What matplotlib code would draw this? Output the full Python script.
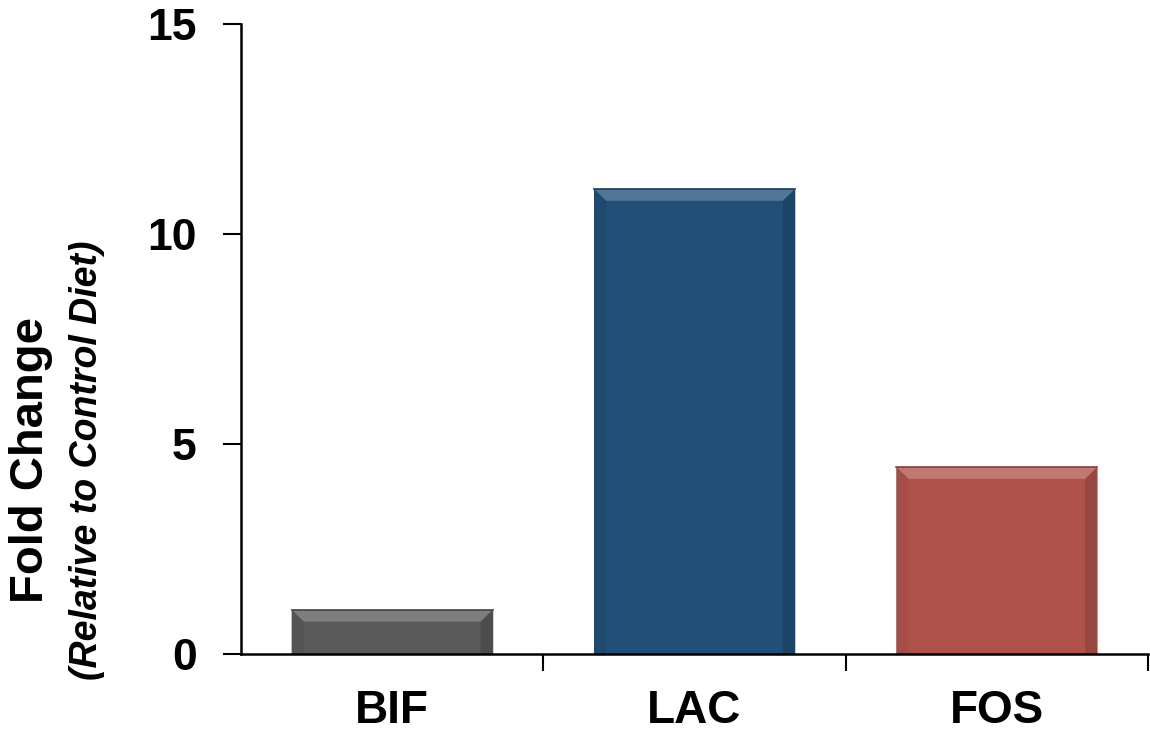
import matplotlib.pyplot as plt
import matplotlib.colors as mcolors
from matplotlib.patches import Polygon

plt.rcParams["font.family"] = ["Liberation Sans", "DejaVu Sans"]

categories = ["BIF", "LAC", "FOS"]
fold_change = [1.05, 11.07, 4.45]
bar_colors = ["#5a5a5a", "#214f77", "#b0524c"]
y_ticks = [0, 5, 10, 15]

BAR_WIDTH = 0.665


def shade(color, amount):
    r, g, b = mcolors.to_rgb(color)
    if amount > 0:
        return (r + (1 - r) * amount, g + (1 - g) * amount, b + (1 - b) * amount)
    return (r * (1 + amount), g * (1 + amount), b * (1 + amount))


def add_bevel(ax, x0, x1, top, color):
    # bevel size ~12 px converted to data units
    bx = 0.04
    by = min(0.28, top / 3)
    faces = [
        ([(x0, top), (x1, top), (x1 - bx, top - by), (x0 + bx, top - by)], shade(color, 0.22)),
        ([(x0, 0), (x0, top), (x0 + bx, top - by), (x0 + bx, 0)], shade(color, -0.06)),
        ([(x1, 0), (x1, top), (x1 - bx, top - by), (x1 - bx, 0)], shade(color, -0.14)),
    ]
    for pts, fc in faces:
        ax.add_patch(Polygon(pts, closed=True, facecolor=fc, edgecolor="none", zorder=3))
    ax.plot([x0, x1], [top, top], color=shade(color, -0.25), lw=1.2, zorder=4)


fig = plt.figure(figsize=(11.5, 7.35), dpi=100)
ax = fig.add_axes([241 / 1150, 81 / 735, 907 / 1150, 630 / 735])

xs = range(len(categories))
bars = ax.bar(xs, fold_change, width=BAR_WIDTH, color=bar_colors, zorder=2,
              edgecolor="#cfcfcf", linewidth=0.8)
for bar, col in zip(bars, bar_colors):
    add_bevel(ax, bar.get_x(), bar.get_x() + bar.get_width(), bar.get_height(), col)

ax.set_xlim(-0.5, 2.5)
ax.set_ylim(0, 15)
ax.set_yticks(y_ticks)
ax.set_yticklabels([str(t) for t in y_ticks], fontsize=32, fontweight="bold")
ax.set_xticks([0.5, 1.5, 2.5])
ax.set_xticklabels([])
ax.set_xticks(list(xs), minor=True)
ax.set_xticklabels(categories, minor=True, fontsize=33, fontweight="bold")
ax.tick_params(axis="x", which="minor", length=0, pad=25.5)
ax.tick_params(axis="x", which="major", length=12, width=1.5, direction="out")
ax.tick_params(axis="y", length=13, width=1.5, direction="out", pad=19)

for side in ["top", "right"]:
    ax.spines[side].set_visible(False)
for side in ["left", "bottom"]:
    ax.spines[side].set_linewidth(1.8)
ax.spines["bottom"].set_zorder(5)

fig.text(31 / 1150, 1 - 460 / 735, "Fold Change", rotation=90, fontsize=34,
         fontweight="bold", ha="center", va="center")
fig.text(87 / 1150, 1 - 460 / 735, "(Relative to Control Diet)", rotation=90,
         fontsize=27, fontweight="bold", style="italic", ha="center", va="center")

fig.savefig("out.png", dpi=100)
